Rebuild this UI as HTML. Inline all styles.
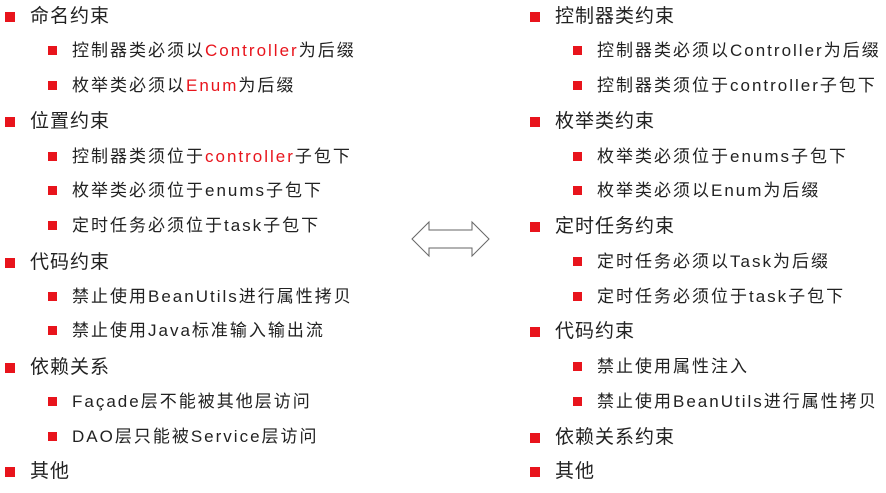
<!DOCTYPE html>
<html><head><meta charset="utf-8"><style>
body{margin:0;width:886px;height:493px;background:#fff;position:relative;overflow:hidden;font-family:"Liberation Sans","Noto Sans CJK SC",sans-serif;color:#222}
.r{position:absolute;white-space:nowrap;line-height:20px}
.r::before{content:"";position:absolute;background:#e8141c}
.l1{font-size:19px;letter-spacing:1px;top:1px}.l1::before{width:10px;height:10px;left:-25px;top:5px}
.l2{font-size:17px;letter-spacing:2px}.l2::before{width:9px;height:9px;left:-24px;top:5px}
.red{color:#e8141c}
</style></head><body>
<div class="r l1" style="left:30px;top:7px">命名约束</div>
<div class="r l2" style="left:72px;top:41px">控制器类必须以<span class="red">Controller</span>为后缀</div>
<div class="r l2" style="left:72px;top:76px">枚举类必须以<span class="red">Enum</span>为后缀</div>
<div class="r l1" style="left:30px;top:112px">位置约束</div>
<div class="r l2" style="left:72px;top:147px">控制器类须位于<span class="red">controller</span>子包下</div>
<div class="r l2" style="left:72px;top:181px">枚举类必须位于enums子包下</div>
<div class="r l2" style="left:72px;top:216px">定时任务必须位于task子包下</div>
<div class="r l1" style="left:30px;top:253px">代码约束</div>
<div class="r l2" style="left:72px;top:287px">禁止使用BeanUtils进行属性拷贝</div>
<div class="r l2" style="left:72px;top:321px">禁止使用Java标准输入输出流</div>
<div class="r l1" style="left:30px;top:358px">依赖关系</div>
<div class="r l2" style="left:72px;top:392px">Façade层不能被其他层访问</div>
<div class="r l2" style="left:72px;top:427px">DAO层只能被Service层访问</div>
<div class="r l1" style="left:30px;top:462px">其他</div>

<div class="r l1" style="left:555px;top:7px">控制器类约束</div>
<div class="r l2" style="left:597px;top:41px">控制器类必须以Controller为后缀</div>
<div class="r l2" style="left:597px;top:76px">控制器类须位于controller子包下</div>
<div class="r l1" style="left:555px;top:112px">枚举类约束</div>
<div class="r l2" style="left:597px;top:147px">枚举类必须位于enums子包下</div>
<div class="r l2" style="left:597px;top:181px">枚举类必须以Enum为后缀</div>
<div class="r l1" style="left:555px;top:217px">定时任务约束</div>
<div class="r l2" style="left:597px;top:252px">定时任务必须以Task为后缀</div>
<div class="r l2" style="left:597px;top:287px">定时任务必须位于task子包下</div>
<div class="r l1" style="left:555px;top:322px">代码约束</div>
<div class="r l2" style="left:597px;top:357px">禁止使用属性注入</div>
<div class="r l2" style="left:597px;top:392px">禁止使用BeanUtils进行属性拷贝</div>
<div class="r l1" style="left:555px;top:428px">依赖关系约束</div>
<div class="r l1" style="left:555px;top:462px">其他</div>

<svg style="position:absolute;left:0;top:0" width="886" height="493">
<polygon points="412,239 429,222 429,230 472,230 472,222 489,239 472,256 472,248 429,248 429,256" fill="#fff" stroke="#666" stroke-width="1"/>
</svg>
</body></html>
